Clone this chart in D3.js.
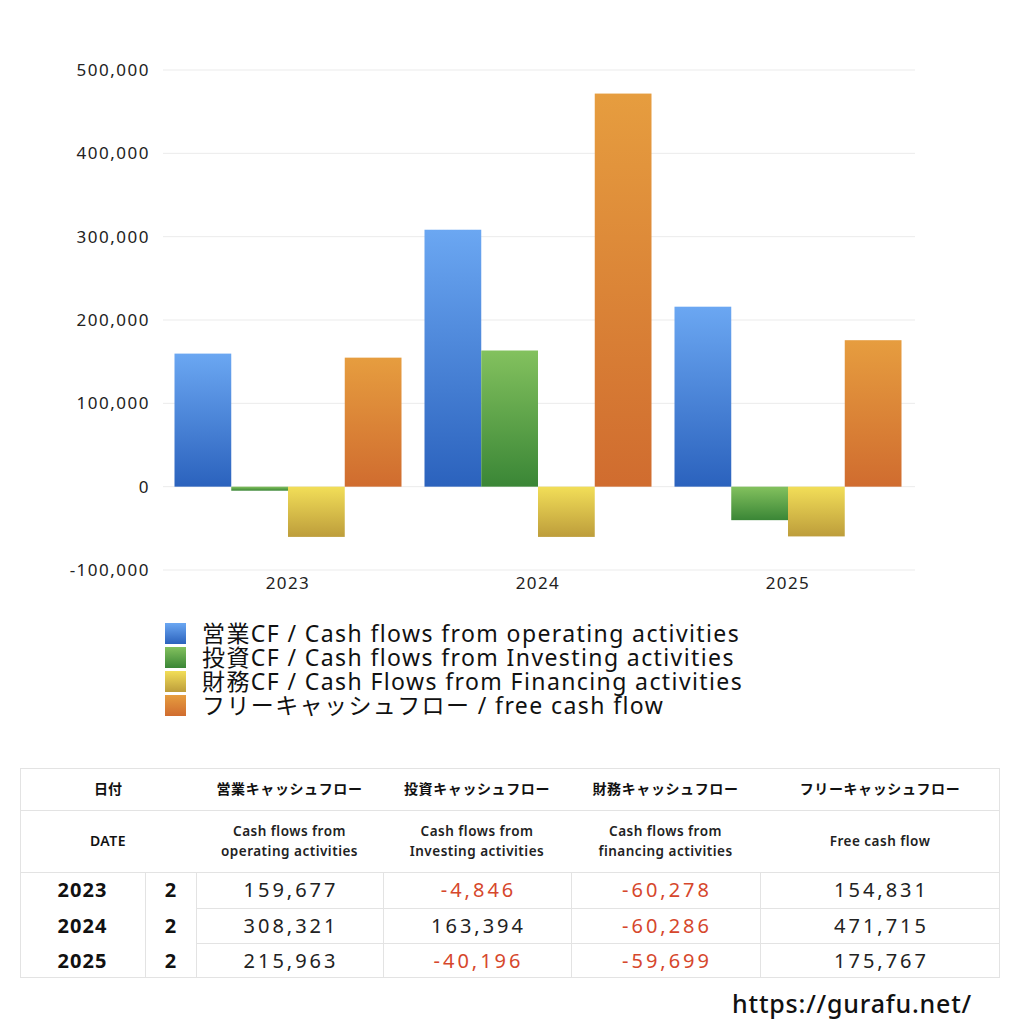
<!DOCTYPE html>
<html>
<head>
<meta charset="utf-8">
<script src="https://cdn.jsdelivr.net/npm/d3@7"></script>
<style>
  body { margin: 0; background: #fff; }
  svg text { font-family: "Noto Sans", "Noto Sans CJK JP", sans-serif; }
</style>
</head>
<body>
<div id="chart"></div>
<script>
// chart data
let years = ["2023", "2024", "2025"];
let months = ["2", "2", "2"];
let seriesKeys = ["op", "inv", "fin", "free"];
let seriesLegend = [
  "営業CF / Cash flows from operating activities",
  "投資CF / Cash flows from Investing activities",
  "財務CF / Cash Flows from Financing activities",
  "フリーキャッシュフロー / free cash flow"
];
let opValues = [159677, 308321, 215963];
let invValues = [-4846, 163394, -40196];
let finValues = [-60278, -60286, -59699];
let freeValues = [154831, 471715, 175767];
let yTicks = [-100000, 0, 100000, 200000, 300000, 400000, 500000];

// table header text
let headJa = ["営業キャッシュフロー", "投資キャッシュフロー", "財務キャッシュフロー", "フリーキャッシュフロー"];
let headEn = [["Cash flows from", "operating activities"], ["Cash flows from", "Investing activities"],
              ["Cash flows from", "financing activities"], ["Free cash flow"]];

let valuesByKey = {op: opValues, inv: invValues, fin: finValues, free: freeValues};
let data = years.map((y, i) => {
  let row = {year: y, month: months[i]};
  seriesKeys.forEach(k => row[k] = valuesByKey[k][i]);
  return row;
});

// plain hyphen for negatives, like the original
let locale = d3.formatLocale({decimal: ".", thousands: ",", grouping: [3], currency: ["", ""], minus: "-"});
let fmt = locale.format(",");

// gradient colours, top -> bottom
let grad = {
  op:   ["#6ba7f2", "#2b62bd"],
  inv:  ["#83c15e", "#3a8636"],
  fin:  ["#f2de58", "#bd9d3b"],
  free: ["#e69d3f", "#d06c2f"]
};

let svg = d3.select("#chart").append("svg")
  .attr("width", 1024)
  .attr("height", 1024);

let defs = svg.append("defs");
seriesKeys.forEach(k => {
  let g = defs.append("linearGradient")
    .attr("id", "g-" + k)
    .attr("x1", 0).attr("y1", 0).attr("x2", 0).attr("y2", 1);
  g.append("stop").attr("offset", "0%").attr("stop-color", grad[k][0]);
  g.append("stop").attr("offset", "100%").attr("stop-color", grad[k][1]);
});

// scales
let x0 = d3.scaleBand().domain(years).range([163, 913]).paddingInner(0.092).paddingOuter(0.046);
let x1 = d3.scaleBand().domain(seriesKeys).range([0, x0.bandwidth()]);
let y = d3.scaleLinear().domain([-100000, 500000]).range([570, 70]);

// grid
svg.append("g")
  .selectAll("line")
  .data(yTicks)
  .join("line")
  .attr("x1", 163).attr("x2", 915)
  .attr("y1", d => y(d)).attr("y2", d => y(d))
  .attr("stroke", "#ebebeb")
  .attr("stroke-width", 1);

// y axis
let yAxis = d3.axisLeft(y).tickValues(yTicks).tickFormat(fmt).tickSize(0).tickPadding(0);
svg.append("g")
  .attr("transform", "translate(150,0)")
  .call(yAxis)
  .call(g => g.select(".domain").remove())
  .selectAll("text")
  .attr("font-size", 17)
  .attr("fill", "#222")
  .attr("letter-spacing", 1.5)
  .style("font-family", "'Noto Sans', sans-serif");

// x axis
let xAxis = d3.axisBottom(x0).tickSize(0).tickPadding(0);
svg.append("g")
  .attr("transform", "translate(0,575)")
  .call(xAxis)
  .call(g => g.select(".domain").remove())
  .selectAll("text")
  .attr("font-size", 17)
  .attr("fill", "#222")
  .attr("letter-spacing", 1.4)
  .attr("dy", "0.85em")
  .style("font-family", "'Noto Sans', sans-serif");

// bars
svg.append("g")
  .selectAll("g")
  .data(data)
  .join("g")
  .attr("transform", d => "translate(" + x0(d.year) + ",0)")
  .selectAll("rect")
  .data(d => seriesKeys.map(k => ({key: k, value: d[k]})))
  .join("rect")
  .attr("x", d => x1(d.key))
  .attr("width", x1.bandwidth())
  .attr("y", d => y(Math.max(0, d.value)))
  .attr("height", d => Math.abs(y(d.value) - y(0)))
  .attr("fill", d => "url(#g-" + d.key + ")");

// legend
let legend = svg.append("g")
  .selectAll("g")
  .data(seriesKeys)
  .join("g")
  .attr("transform", (d, i) => "translate(165," + (623 + i * 24) + ")");

legend.append("rect")
  .attr("width", 21)
  .attr("height", 21)
  .attr("fill", d => "url(#g-" + d + ")");

legend.append("text")
  .attr("x", 37)
  .attr("y", 11)
  .attr("dy", "0.36em")
  .attr("font-size", 23)
  .attr("letter-spacing", 1.4)
  .attr("fill", "#111")
  .text((d, i) => seriesLegend[i]);

// table
let tbl = svg.append("g");
let tLeft = 20, tRight = 1000;
let colX = [20, 145, 196, 383, 571, 760, 1000];
let rowY = [768, 810, 872, 908, 943, 978];
let lineColor = "#e3e3e3";

// outer border
tbl.append("rect")
  .attr("x", tLeft + 0.5).attr("y", rowY[0] + 0.5)
  .attr("width", tRight - tLeft - 1).attr("height", rowY[5] - rowY[0] - 1)
  .attr("fill", "none").attr("stroke", lineColor);

// header separators
[rowY[1], rowY[2]].forEach(yy => {
  tbl.append("line").attr("x1", tLeft).attr("x2", tRight)
    .attr("y1", yy + 0.5).attr("y2", yy + 0.5).attr("stroke", lineColor);
});
// data row separators (value columns only)
[rowY[3], rowY[4]].forEach(yy => {
  tbl.append("line").attr("x1", colX[2]).attr("x2", tRight)
    .attr("y1", yy + 0.5).attr("y2", yy + 0.5).attr("stroke", lineColor);
});
// vertical lines in data rows
colX.slice(1, 6).forEach(xx => {
  tbl.append("line").attr("x1", xx + 0.5).attr("x2", xx + 0.5)
    .attr("y1", rowY[2]).attr("y2", rowY[5]).attr("stroke", lineColor);
});

let colMid = i => (colX[i] + colX[i + 1]) / 2;

// header row 1 and 2
tbl.append("text").attr("x", 108).attr("y", (rowY[0] + rowY[1]) / 2)
  .attr("dy", "0.36em").attr("text-anchor", "middle")
  .attr("font-size", 14).attr("font-weight", "bold").attr("fill", "#111")
  .style("font-family", "'Noto Sans CJK JP', sans-serif").text("日付");
tbl.append("text").attr("x", 108).attr("y", (rowY[1] + rowY[2]) / 2)
  .attr("dy", "0.36em").attr("text-anchor", "middle")
  .attr("font-size", 14).attr("font-weight", 600).attr("letter-spacing", 0.5)
  .attr("fill", "#111").text("DATE");

headJa.forEach((t, i) => {
  tbl.append("text").attr("x", colMid(i + 2)).attr("y", (rowY[0] + rowY[1]) / 2)
    .attr("dy", "0.36em").attr("text-anchor", "middle")
    .attr("font-size", 14).attr("font-weight", "bold").attr("fill", "#111")
    .attr("letter-spacing", 0.6)
    .style("font-family", "'Noto Sans CJK JP', sans-serif").text(t);
});
headEn.forEach((lines, i) => {
  let mid = (rowY[1] + rowY[2]) / 2;
  lines.forEach((t, j) => {
    let off = lines.length === 1 ? 0 : (j === 0 ? -10 : 10);
    tbl.append("text").attr("x", colMid(i + 2)).attr("y", mid + off)
      .attr("dy", "0.36em").attr("text-anchor", "middle")
      .attr("font-size", 13.5).attr("font-weight", 600).attr("letter-spacing", 0.5)
      .attr("fill", "#222").text(t);
  });
});

// data rows
data.forEach((d, r) => {
  let mid = (rowY[r + 2] + rowY[r + 3]) / 2;
  tbl.append("text").attr("x", colMid(0)).attr("y", mid).attr("dy", "0.36em")
    .attr("text-anchor", "middle").attr("font-size", 20).attr("font-weight", "bold")
    .attr("letter-spacing", 1).attr("fill", "#111").text(d.year);
  tbl.append("text").attr("x", colMid(1)).attr("y", mid).attr("dy", "0.36em")
    .attr("text-anchor", "middle").attr("font-size", 20).attr("font-weight", "bold")
    .attr("fill", "#111").text(d.month);
  seriesKeys.forEach((k, c) => {
    tbl.append("text").attr("x", colMid(c + 2) + 1.5).attr("y", mid).attr("dy", "0.36em")
      .attr("text-anchor", "middle").attr("font-size", 20)
      .attr("letter-spacing", 3)
      .attr("fill", d[k] < 0 ? "#d6472c" : "#222")
      .text(fmt(d[k]));
  });
});

// site url
svg.append("text")
  .attr("x", 972).attr("y", 1004)
  .attr("dy", "0.36em")
  .attr("text-anchor", "end")
  .attr("font-size", 25)
  .attr("font-weight", 500)
  .attr("letter-spacing", 0.8)
  .attr("fill", "#111")
  .text("https://gurafu.net/");
</script>
</body>
</html>
